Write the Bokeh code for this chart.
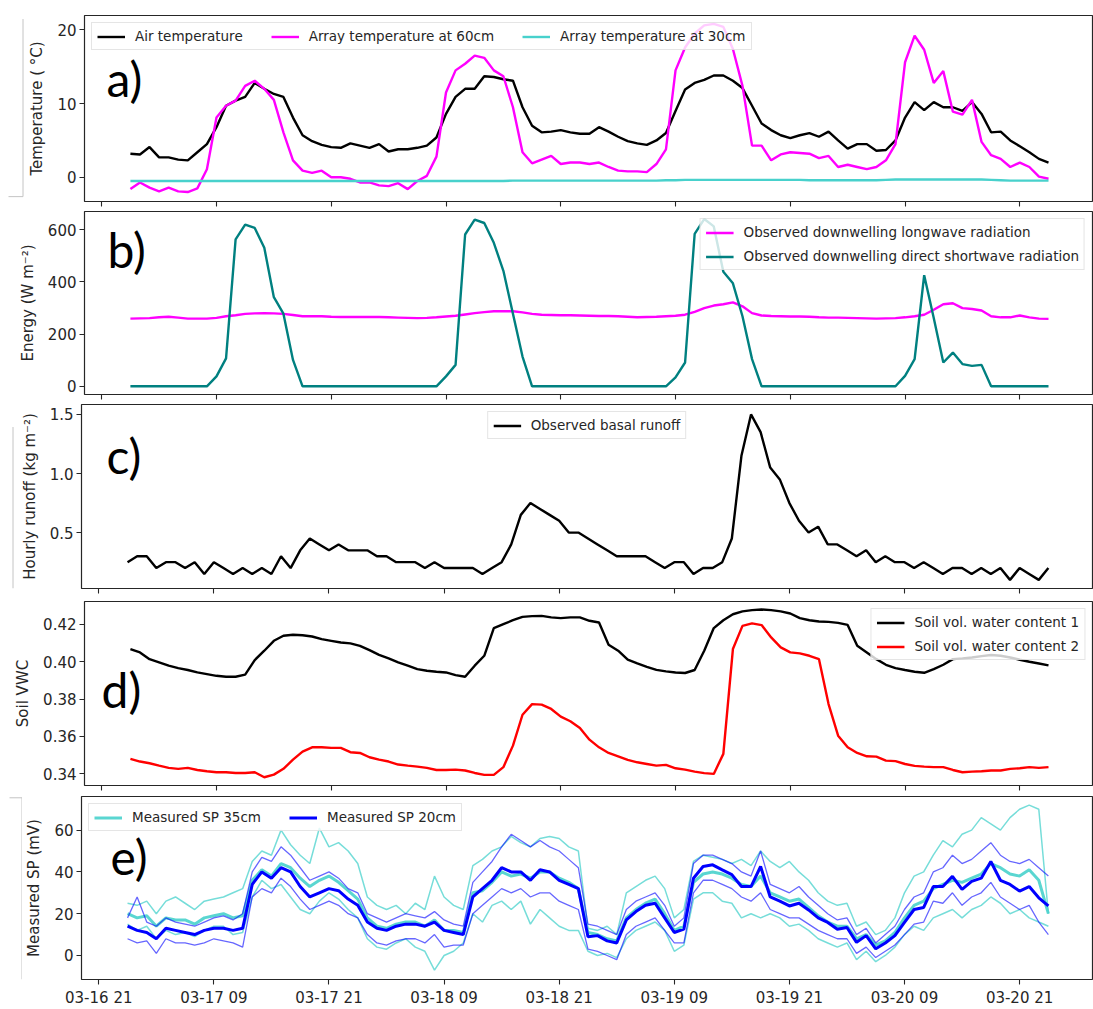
import pandas as pd
from bokeh.plotting import figure
from bokeh.layouts import column, row
from bokeh.models import (Range1d, FixedTicker, PrintfTickFormatter, Legend,
                          LegendItem, Label)
from bokeh.embed import file_html
from bokeh.resources import INLINE

# ---------------------------------------------------------------- data
# hourly samples, 2019-03-17 00:00 .. 2019-03-21 00:00
times = pd.date_range("2019-03-17 00:00", periods=97, freq="h")

tick_times = pd.date_range("2019-03-16 21:00", periods=9, freq="12h")
tick_labels = ["03-16 21", "03-17 09", "03-17 21", "03-18 09", "03-18 21",
               "03-19 09", "03-19 21", "03-20 09", "03-20 21"]

# a) temperatures (deg C)
air_temp = [3.2, 3.1, 4.1, 2.7, 2.7, 2.4, 2.3, 3.4, 4.5, 6.8,
            9.7, 10.4, 10.9, 12.8, 12.0, 11.3, 10.9, 8.1, 5.7, 4.9,
            4.4, 4.1, 4.0, 4.6, 4.3, 4.0, 4.5, 3.5, 3.8, 3.8,
            4.0, 4.3, 5.4, 8.6, 10.9, 12.0, 12.0, 13.7, 13.6, 13.3,
            13.1, 9.5, 7.0, 6.1, 6.2, 6.4, 6.1, 5.9, 5.9, 6.8,
            6.2, 5.5, 4.9, 4.6, 4.4, 5.0, 6.0, 9.0, 11.9, 12.8,
            13.2, 13.8, 13.8, 13.1, 12.1, 9.7, 7.3, 6.4, 5.7, 5.3,
            5.7, 6.0, 5.5, 6.2, 5.0, 3.9, 4.5, 4.5, 3.6, 3.7,
            5.0, 8.1, 10.2, 9.1, 10.2, 9.5, 9.5, 9.0, 10.2, 8.6,
            6.1, 6.2, 5.0, 4.2, 3.4, 2.5, 2.0]
array_t60 = [-1.6, -0.7, -1.4, -1.9, -1.4, -1.9, -2.0, -1.5, 1.1, 8.1,
             9.7, 10.4, 12.4, 13.1, 12.0, 10.5, 6.1, 2.3, 0.9, 0.6,
             0.9, 0.0, 0.0, -0.2, -0.7, -0.7, -1.1, -1.2, -0.8, -1.6,
             -0.5, 0.2, 2.8, 11.5, 14.5, 15.4, 16.5, 16.2, 14.5, 13.7,
             9.5, 3.4, 1.9, 2.4, 2.9, 1.8, 2.0, 2.0, 1.8, 2.0,
             1.4, 0.9, 0.8, 0.8, 0.7, 1.8, 3.8, 14.5, 17.6, 19.5,
             20.6, 20.8, 20.4, 17.4, 12.4, 4.3, 4.3, 2.3, 3.1, 3.4,
             3.3, 3.2, 2.6, 2.9, 1.4, 1.7, 1.4, 1.1, 1.4, 2.3,
             4.5, 15.6, 19.2, 17.3, 12.8, 14.4, 8.9, 8.5, 10.5, 4.8,
             3.0, 2.5, 1.4, 2.0, 1.4, 0.1, -0.2]
array_t30 = [-0.5, -0.5, -0.5, -0.5, -0.5, -0.5, -0.5, -0.5, -0.5, -0.5,
             -0.5, -0.5, -0.5, -0.5, -0.5, -0.5, -0.5, -0.5, -0.5, -0.5,
             -0.5, -0.5, -0.5, -0.5, -0.5, -0.5, -0.5, -0.5, -0.5, -0.5,
             -0.5, -0.5, -0.5, -0.5, -0.5, -0.5, -0.5, -0.5, -0.5, -0.5,
             -0.45, -0.45, -0.45, -0.45, -0.45, -0.45, -0.45, -0.45, -0.45, -0.45,
             -0.45, -0.45, -0.45, -0.45, -0.45, -0.45, -0.4, -0.4, -0.35, -0.35,
             -0.35, -0.35, -0.35, -0.35, -0.35, -0.35, -0.35, -0.35, -0.35, -0.35,
             -0.35, -0.4, -0.4, -0.4, -0.4, -0.4, -0.4, -0.4, -0.4, -0.35,
             -0.3, -0.3, -0.3, -0.3, -0.3, -0.3, -0.3, -0.3, -0.3, -0.3,
             -0.35, -0.4, -0.45, -0.45, -0.45, -0.45, -0.45]

# b) downwelling radiation (W m-2)
longwave = [259, 260, 261, 264, 266, 263, 259, 259, 259, 262,
            268, 272, 277, 279, 280, 279, 277, 273, 268, 268,
            268, 266, 265, 265, 265, 265, 265, 264, 263, 262,
            261, 262, 264, 267, 270, 275, 280, 284, 287, 287,
            287, 283, 277, 274, 273, 272, 272, 271, 270, 269,
            269, 268, 266, 264, 265, 266, 268, 270, 274, 285,
            299, 309, 314, 321, 306, 280, 271, 269, 268, 267,
            267, 266, 264, 263, 263, 262, 261, 260, 259, 260,
            261, 264, 268, 274, 293, 314, 318, 299, 296, 290,
            268, 264, 264, 271, 264, 259, 258]
shortwave = [0, 0, 0, 0, 0, 0, 0, 0, 0, 38,
             107, 562, 619, 606, 530, 341, 278, 101, 0, 0,
             0, 0, 0, 0, 0, 0, 0, 0, 0, 0,
             0, 0, 0, 38, 82, 581, 638, 625, 549, 442,
             278, 114, 0, 0, 0, 0, 0, 0, 0, 0,
             0, 0, 0, 0, 0, 0, 0, 34, 91, 583,
             640, 612, 438, 394, 268, 104, 0, 0, 0, 0,
             0, 0, 0, 0, 0, 0, 0, 0, 0, 0,
             0, 40, 104, 425, 261, 91, 129, 85, 78, 82,
             0, 0, 0, 0, 0, 0, 0]

# c) basal runoff (kg m-2 per hour)
runoff = [0.25, 0.30, 0.30, 0.20, 0.25, 0.25, 0.20, 0.25, 0.15, 0.25,
          0.20, 0.15, 0.20, 0.15, 0.20, 0.15, 0.30, 0.20, 0.35, 0.45,
          0.40, 0.35, 0.40, 0.35, 0.35, 0.35, 0.30, 0.30, 0.25, 0.25,
          0.25, 0.20, 0.25, 0.20, 0.20, 0.20, 0.20, 0.15, 0.20, 0.25,
          0.40, 0.65, 0.75, 0.70, 0.65, 0.60, 0.50, 0.50, 0.45, 0.40,
          0.35, 0.30, 0.30, 0.30, 0.30, 0.25, 0.20, 0.25, 0.25, 0.15,
          0.20, 0.20, 0.25, 0.45, 1.15, 1.50, 1.35, 1.05, 0.95, 0.75,
          0.60, 0.50, 0.55, 0.40, 0.40, 0.35, 0.30, 0.35, 0.25, 0.30,
          0.25, 0.25, 0.20, 0.25, 0.20, 0.15, 0.20, 0.20, 0.15, 0.20,
          0.15, 0.20, 0.10, 0.20, 0.15, 0.10, 0.20]

# d) soil volumetric water content
vwc1 = [0.4067, 0.4049, 0.4013, 0.3996, 0.3978, 0.3965, 0.3955, 0.3942, 0.3933, 0.3924,
        0.3919, 0.3919, 0.3930, 0.4008, 0.4058, 0.4111, 0.4138, 0.4143, 0.4141, 0.4134,
        0.4120, 0.4111, 0.4102, 0.4097, 0.4084, 0.4061, 0.4036, 0.4017, 0.3996, 0.3978,
        0.3960, 0.3951, 0.3946, 0.3942, 0.3928, 0.3919, 0.3978, 0.4031, 0.4179, 0.4200,
        0.4221, 0.4239, 0.4243, 0.4244, 0.4236, 0.4232, 0.4236, 0.4236, 0.4218, 0.4209,
        0.4090, 0.4058, 0.4010, 0.3990, 0.3972, 0.3956, 0.3948, 0.3942, 0.3939, 0.3955,
        0.4058, 0.4179, 0.4221, 0.4253, 0.4268, 0.4275, 0.4278, 0.4275, 0.4268, 0.4257,
        0.4232, 0.4221, 0.4214, 0.4212, 0.4207, 0.4196, 0.4084, 0.4049, 0.4013, 0.3983,
        0.3965, 0.3955, 0.3946, 0.3940, 0.3960, 0.3983, 0.4013, 0.4017, 0.4022, 0.4029,
        0.4035, 0.4031, 0.4022, 0.4010, 0.3999, 0.3990, 0.3980]
vwc2 = [0.3480, 0.3466, 0.3457, 0.3444, 0.3432, 0.3427, 0.3432, 0.3421, 0.3414, 0.3409,
        0.3409, 0.3405, 0.3405, 0.3409, 0.3382, 0.3396, 0.3427, 0.3476, 0.3519, 0.3542,
        0.3542, 0.3539, 0.3539, 0.3516, 0.3512, 0.3489, 0.3476, 0.3466, 0.3450, 0.3444,
        0.3439, 0.3432, 0.3421, 0.3421, 0.3423, 0.3418, 0.3405, 0.3395, 0.3395, 0.3436,
        0.3551, 0.3716, 0.3773, 0.3770, 0.3747, 0.3706, 0.3681, 0.3645, 0.3583, 0.3542,
        0.3512, 0.3494, 0.3475, 0.3462, 0.3453, 0.3444, 0.3448, 0.3430, 0.3423, 0.3412,
        0.3404, 0.3400, 0.3507, 0.4067, 0.4191, 0.4204, 0.4195, 0.4129, 0.4076, 0.4049,
        0.4044, 0.4031, 0.4013, 0.3773, 0.3604, 0.3542, 0.3512, 0.3494, 0.3492, 0.3471,
        0.3468, 0.3453, 0.3443, 0.3439, 0.3436, 0.3436, 0.3421, 0.3409, 0.3412, 0.3414,
        0.3418, 0.3418, 0.3427, 0.3430, 0.3436, 0.3432, 0.3436]

# e) self-potential (mV): two electrodes and the mean at each depth
sp35_mean = [20, 18, 19, 14, 18, 17, 17, 15, 18, 19, 20, 18, 19,
             36, 41, 38, 44, 42, 37, 33, 36, 38, 35, 31, 27,
             18, 14, 13, 15, 16, 16, 14, 17, 12, 12, 11,
             30, 31, 35, 40, 38, 39, 37,
             40, 40, 37, 35, 32,
             11, 10, 8, 7, 18, 22, 25, 27, 20, 12, 14,
             35, 39, 40, 39, 37, 34, 33, 38,
             30, 28, 26, 27, 23, 19, 16, 14, 14,
             8, 10, 5, 7, 11,
             18, 24, 26, 32, 34, 36, 35, 37, 39, 44, 42, 39, 38, 41, 36, 20]
sp35_hi = [25, 24, 26, 20, 26, 28, 25, 22, 26, 27, 28, 30, 32,
           45, 50, 48, 60, 53, 48, 44, 61, 52, 54, 50, 44,
           28, 24, 22, 24, 20, 25, 22, 38, 28, 24, 22,
           43, 46, 50, 52, 57, 54, 52,
           56, 57, 56, 52, 50,
           13, 12, 14, 10, 30, 33, 36, 38, 32, 18, 22,
           45, 48, 47, 46, 44, 46, 43, 50,
           45, 42, 45, 40, 36, 30, 26, 24, 25,
           14, 16, 10, 12, 18,
           30, 38, 40, 48, 55, 52, 58, 60, 66, 63, 60, 66, 70, 72, 70, 20]
sp35_lo = [15, 12, 14, 8, 12, 10, 11, 9, 12, 14, 14, 10, 11,
           28, 36, 32, 34, 28, 22, 20, 26, 30, 27, 22, 18,
           8, 4, 3, 6, 8, 4, 2, -7, 0, 2, 6,
           20, 16, 24, 26, 22, 26, 15,
           22, 18, 14, 12, 12,
           2, 0, 1, -1, 8, 12, 14, 16, 12, 2, 5,
           27, 30, 30, 26, 25, 18, 20, 18,
           20, 18, 14, 15, 12, 8, 6, 4, 6,
           -2, 2, -3, 0, 4,
           10, 14, 12, 18, 20, 22, 18, 22, 24, 28, 25, 20, 22, 18, 16, 14]
sp20_mean = [14, 12, 11, 8, 13, 12, 11, 10, 12, 13, 13, 12, 13,
             34, 40, 37, 42, 40, 33, 28, 30, 32, 31, 27, 24,
             16, 13, 12, 14, 15, 15, 14, 16, 12, 11, 10,
             28, 32, 36, 42, 40, 40, 36,
             41, 40, 36, 34, 32,
             9, 9.5, 7, 6, 17, 21, 24, 25, 18, 11, 12.6,
             37, 42.6, 43.4, 41, 38.7, 33, 33, 42.6,
             28, 26, 23.7, 25, 21.8, 18, 15.8, 12.6, 13.4,
             6.3, 9.5, 3.2, 6, 9.5,
             15.8, 22, 23, 33, 33, 37.9, 31.6, 35.5, 37, 45, 36, 34, 30.8, 33, 27.6, 23.7]
sp20_hi = [18, 28, 16, 14, 18, 16, 15, 14, 16, 18, 19, 17, 20,
           40, 47, 45, 52, 48, 42, 36, 38, 40, 37, 32, 30,
           20, 18, 16, 18, 20, 19, 18, 21, 17, 15, 14,
           35, 40, 45, 52, 58, 55, 52,
           55, 52, 50, 46, 42,
           15, 14, 12, 10, 22, 26, 28, 30, 24, 14, 18,
           44, 48, 48, 46, 44, 40, 38, 50,
           34, 32, 30, 33, 28, 24, 20, 17, 18,
           10, 13, 6, 10, 14,
           22, 28, 30, 40, 42, 48, 44, 46, 50, 54, 48, 45, 44, 46, 42, 38]
sp20_lo = [8, 6, 7, 1, 8, 6, 6, 5, 6, 8, 7, 6, 4,
           28, 32, 30, 37, 33, 27, 22, 24, 26, 24, 20, 18,
           10, 6, 5, 7, 8, 8, 6, 10, 4, 5, 5,
           20, 24, 28, 32, 30, 32, 28,
           30, 30, 26, 24, 22,
           3, 2, 0, -2, 10, 14, 16, 18, 12, 6, 6,
           30, 36, 36, 34, 32, 28, 26, 30,
           22, 20, 18, 18, 15, 12, 10, 8, 8,
           1, 4, -1, 2, 5,
           10, 15, 16, 26, 25, 30, 24, 28, 30, 35, 28, 25, 22, 24, 16, 10]

# ---------------------------------------------------------------- styling
FONT = "DejaVu Sans"
INK = "#262626"
TURQ = "#48d1cc"
SEAM = "#c4c4c4"
PAGE_W = 1093

xtick_ms = [t.value / 1e6 for t in tick_times]
x_range = Range1d(pd.Timestamp("2019-03-16 19:12"), pd.Timestamp("2019-03-21 04:36"))


def make_panel(width, height, left, top, bottom, y_range, yticks, yfmt, ylabel, show_xlabels):
    p = figure(width=width, height=height, x_axis_type="datetime",
               x_range=x_range, y_range=Range1d(*y_range),
               output_backend="svg", toolbar_location=None,
               min_border_left=left, min_border_right=1,
               min_border_top=top, min_border_bottom=bottom)
    p.grid.visible = False
    p.outline_line_color = INK
    p.outline_line_width = 1.2
    p.background_fill_color = "white"
    p.border_fill_color = "white"

    p.yaxis.ticker = FixedTicker(ticks=yticks)
    p.yaxis.formatter = PrintfTickFormatter(format=yfmt)
    p.xaxis.ticker = FixedTicker(ticks=xtick_ms)
    p.xaxis.major_label_overrides = dict(zip(xtick_ms, tick_labels))
    for ax in (p.xaxis[0], p.yaxis[0]):
        ax.axis_line_color = None
        ax.major_tick_line_color = INK
        ax.major_tick_line_width = 1.1
        ax.major_tick_out = 5
        ax.major_tick_in = 0
        ax.minor_tick_line_color = None
        ax.major_label_text_font = FONT
        ax.major_label_text_font_size = "15px"
        ax.major_label_text_color = INK
    p.yaxis.major_label_standoff = 3
    p.yaxis.axis_label = ylabel
    p.yaxis.axis_label_text_font = FONT
    p.yaxis.axis_label_text_font_size = "15px"
    p.yaxis.axis_label_text_font_style = "normal"
    p.yaxis.axis_label_text_color = INK
    p.yaxis.axis_label_standoff = 8
    if show_xlabels:
        p.xaxis.major_label_standoff = 4
    else:
        p.xaxis.major_label_text_font_size = "1px"
        p.xaxis.major_label_text_alpha = 0
        p.xaxis.major_label_standoff = 0
    return p


def seam_strip(width, height, x0, y0, x1, y1):
    """Narrow blank strip left of a panel carrying the thin grey page-seam strokes
    (pixel coordinates, y counted from the top)."""
    s = figure(width=width, height=height, x_range=Range1d(0, width),
               y_range=Range1d(height, 0), output_backend="svg",
               toolbar_location=None, x_axis_location=None, y_axis_location=None,
               min_border=0, min_border_left=0, min_border_right=0,
               min_border_top=0, min_border_bottom=0)
    s.outline_line_color = None
    s.grid.visible = False
    s.segment(x0=x0, y0=y0, x1=x1, y1=y1, line_color=SEAM, line_width=1)
    return s


def add_legend(p, items, location, orientation="vertical"):
    lg = Legend(items=[LegendItem(label=lab, renderers=[r]) for lab, r in items],
                location=location, orientation=orientation)
    lg.label_text_font = FONT
    lg.label_text_font_size = "13.5px"
    lg.label_text_color = INK
    lg.glyph_width = 28
    lg.glyph_height = 15
    lg.label_height = 15
    lg.label_standoff = 10
    lg.padding = 5
    lg.spacing = 8 if orientation == "vertical" else 28
    lg.margin = 7
    lg.border_line_color = "#cccccc"
    lg.border_line_width = 1
    lg.background_fill_alpha = 0.8
    p.add_layout(lg)


def panel_letter(p, text, x, y):
    p.add_layout(Label(x=x, y=y, x_units="screen", y_units="screen", text=text,
                       text_font="Lato", text_font_size="48px", text_color="black",
                       text_baseline="alphabetic"))


# a) temperature  (strip 24 px + panel, frame starts at x = 84)
pa = make_panel(PAGE_W - 24, 210, 60, 15, 9, (-3.28, 21.94), [0, 10, 20], "%d",
                "Temperature ( °C)", False)
ra1 = pa.line(times, air_temp, line_color="black", line_width=2.4)
ra2 = pa.line(times, array_t60, line_color="magenta", line_width=2.4)
ra3 = pa.line(times, array_t30, line_color=TURQ, line_width=2.4)
add_legend(pa, [("Air temperature", ra1), ("Array temperature at 60cm", ra2),
                ("Array temperature at 30cm", ra3)], "top_left", "horizontal")
panel_letter(pa, "a)", 22, 123)
sa = seam_strip(24, 210, [22.5, 8], [4, 204.5], [22.5, 22.5], [204.5, 204.5])

# b) radiation
pb = make_panel(PAGE_W, 193, 84, 1, 9, (-31.4, 669), [0, 200, 400, 600], "%d",
                "Energy (W m⁻²)", False)
rb1 = pb.line(times, longwave, line_color="magenta", line_width=2.4)
rb2 = pb.line(times, shortwave, line_color="teal", line_width=2.4)
add_legend(pb, [("Observed downwelling longwave radiation", rb1),
                ("Observed downwelling direct shortwave radiation", rb2)], "top_right")
panel_letter(pb, "b)", 23, 145)

# c) runoff  (strip 14 px + panel, frame starts at x = 81)
pc = make_panel(PAGE_W - 14, 196, 67, 1, 11, (0.027, 1.584), [0.5, 1.0, 1.5], "%.1f",
                "Hourly runoff (kg m⁻²)", False)
rc1 = pc.line(times, runoff, line_color="black", line_width=2.4)
add_legend(pc, [("Observed basal runoff", rc1)], "top_center")
panel_letter(pc, "c)", 25, 133)
sc = seam_strip(14, 196, [12.5], [24], [12.5], [196])

# d) soil moisture
pd_ = make_panel(PAGE_W, 196, 80, 2, 10, (0.3338, 0.4321), [0.34, 0.36, 0.38, 0.40, 0.42],
                 "%.2f", "Soil VWC", False)
rd1 = pd_.line(times, vwc1, line_color="black", line_width=2.4)
rd2 = pd_.line(times, vwc2, line_color="red", line_width=2.4)
add_legend(pd_, [("Soil vol. water content 1", rd1),
                 ("Soil vol. water content 2", rd2)], "top_right")
panel_letter(pd_, "d)", 17, 96)

# e) self-potential  (strip 22 px + panel, frame starts at x = 78)
pe = make_panel(PAGE_W - 22, 214, 56, 1, 28, (-11.5, 76.1), [0, 20, 40, 60], "%d",
                "Measured SP (mV)", True)
pe.line(times, sp35_hi, line_color=TURQ, line_width=1.5, line_alpha=0.75)
pe.line(times, sp35_lo, line_color=TURQ, line_width=1.5, line_alpha=0.75)
re1 = pe.line(times, sp35_mean, line_color=TURQ, line_width=3, line_alpha=0.9)
pe.line(times, sp20_hi, line_color="blue", line_width=1.3, line_alpha=0.6)
pe.line(times, sp20_lo, line_color="blue", line_width=1.3, line_alpha=0.6)
re2 = pe.line(times, sp20_mean, line_color="blue", line_width=3)
add_legend(pe, [("Measured SP 35cm", re1), ("Measured SP 20cm", re2)],
           "top_left", "horizontal")
panel_letter(pe, "e)", 29, 123)
se = seam_strip(22, 214, [9, 21.5], [1.5, 1.5], [21.5, 21.5], [1.5, 214])

layout = column(row(sa, pa), pb, row(sc, pc), pd_, row(se, pe))
open("out.html", "w").write(file_html(layout, INLINE))
